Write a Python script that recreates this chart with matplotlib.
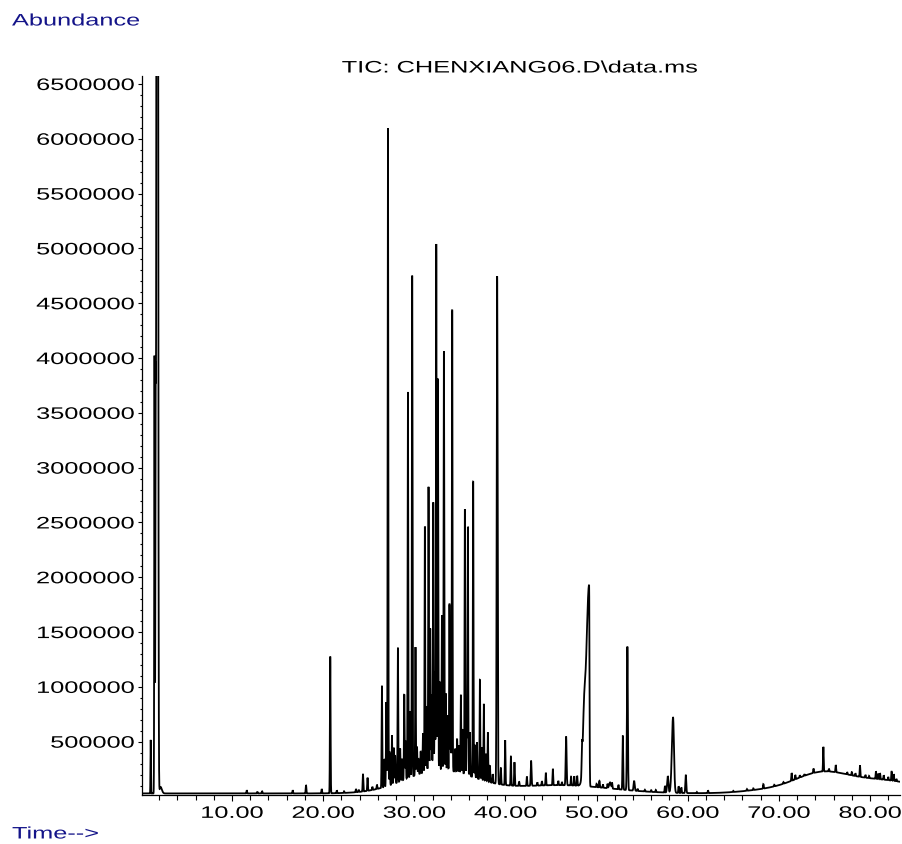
import numpy as np
import matplotlib
matplotlib.use("Agg")
import matplotlib.pyplot as plt
from matplotlib import patheffects
from matplotlib.transforms import Affine2D
from matplotlib.ticker import FixedLocator, MultipleLocator

# ---------------- data ----------------
# retention times (min) of resolved peaks
peak_rt = [
    1.08, 1.50, 1.62, 1.80, 2.15,
    11.62, 12.78, 13.30, 16.66, 18.12, 19.84, 20.78,
    21.5, 22.3, 23.6, 23.9, 24.37, 24.87, 25.4, 25.9,
    26.45, 26.7, 26.93, 27.11, 27.3, 27.55, 27.75, 27.9, 28.2, 28.45,
    28.65, 28.9, 29.05, 29.3, 29.55, 29.77, 30.13, 30.3, 30.46, 30.7,
    30.95, 31.16, 31.35, 31.56, 31.75, 31.9, 32.08, 32.25, 32.41, 32.59,
    32.8, 33.03, 33.25, 33.45, 33.65, 33.86, 34.0, 34.16, 34.49, 34.7,
    34.9, 35.11, 35.3, 35.55, 35.75, 35.88, 36.1, 36.46, 36.65, 36.87,
    37.2, 37.4, 37.63, 37.85, 38.07, 38.3, 38.6, 39.09, 39.5, 39.97,
    40.6, 40.99, 41.5, 42.35, 42.82, 43.5, 44.0, 44.43, 45.2, 45.8,
    46.2, 46.66, 47.2, 47.55, 47.87, 48.40, 48.62, 49.18, 50.0, 50.31,
    50.7, 51.2, 51.48, 51.7, 52.4, 52.88, 53.38, 54.12, 54.5, 55.3,
    56.0, 56.5, 57.5, 57.81, 58.39, 59.0, 59.3, 59.79, 61.0, 62.23,
    65.0, 66.5, 67.2, 68.3, 69.5, 70.5, 71.4, 71.8, 72.3, 72.8,
    73.8, 74.88, 75.5, 76.24, 77.5, 78.0, 78.4, 78.9, 79.5, 79.9,
    80.65, 80.9, 81.1, 81.5, 82.0, 82.37, 82.6, 82.9,
]
# peak heights above the baseline (abundance)
peak_height = [
    490e3, 4.0e6, 3.3e6, 2.5e7, 60e3,
    30e3, 16e3, 22e3, 30e3, 77e3, 40e3, 1.245e6,
    25e3, 15e3, 30e3, 20e3, 160e3, 120e3, 30e3, 40e3,
    930e3, 250e3, 770e3, 6.0e6, 300e3, 450e3, 330e3, 250e3, 1.23e6, 300e3,
    200e3, 780e3, 350e3, 3.53e6, 600e3, 4.57e6, 1.17e6, 250e3, 140e3, 200e3,
    360e3, 2.24e6, 600e3, 2.6e6, 1.3e6, 700e3, 2.45e6, 900e3, 4.8e6, 3.57e6,
    800e3, 1.41e6, 3.82e6, 700e3, 500e3, 1.52e6, 400e3, 4.21e6, 210e3, 300e3,
    250e3, 715e3, 400e3, 2.42e6, 500e3, 2.27e6, 400e3, 2.7e6, 300e3, 330e3,
    910e3, 300e3, 700e3, 250e3, 450e3, 150e3, 80e3, 4.63e6, 150e3, 410e3,
    265e3, 215e3, 40e3, 85e3, 225e3, 30e3, 40e3, 115e3, 150e3, 40e3,
    30e3, 445e3, 80e3, 85e3, 90e3, 220e3, 400e3, 1.84e6, 30e3, 60e3,
    30e3, 40e3, 55e3, 50e3, 40e3, 490e3, 1.31e6, 90e3, 20e3, 15e3,
    15e3, 20e3, 60e3, 150e3, 690e3, 60e3, 50e3, 165e3, 10e3, 25e3,
    10e3, 15e3, 15e3, 40e3, 15e3, 15e3, 70e3, 40e3, 20e3, 15e3,
    40e3, 225e3, 25e3, 65e3, 20e3, 30e3, 25e3, 105e3, 25e3, 20e3,
    70e3, 50e3, 55e3, 40e3, 30e3, 85e3, 60e3, 20e3,
]
# peaks that are broader than the default (rt: (left sigma, right sigma))
broad_peaks = {
    1.08: (0.025, 0.025), 1.50: (0.03, 0.03), 1.62: (0.03, 0.03),
    1.80: (0.065, 0.065), 2.15: (0.08, 0.15), 39.09: (0.05, 0.05),
    42.82: (0.045, 0.045), 46.66: (0.05, 0.05), 48.40: (0.04, 0.04),
    48.62: (0.13, 0.13), 49.18: (0.32, 0.04), 51.48: (0.1, 0.1),
    52.88: (0.04, 0.04), 53.38: (0.05, 0.05), 54.12: (0.06, 0.06),
    57.81: (0.07, 0.07), 58.39: (0.13, 0.10), 59.79: (0.05, 0.05),
}
default_sigma = 0.035

# broad baseline humps (centre, height, width) and constant floor
hump_rt = [32.8, 46.0, 69.0, 74.5, 81.0]
hump_height = [210e3, 75e3, 30e3, 150e3, 120e3]
hump_sigma = [3.8, 5.5, 3.0, 2.8, 4.5]
baseline_floor = 28e3

x_major = [10, 20, 30, 40, 50, 60, 70, 80]
x_labels = ["10.00", "20.00", "30.00", "40.00", "50.00", "60.00", "70.00", "80.00"]
y_major = [500000, 1000000, 1500000, 2000000, 2500000, 3000000,
           3500000, 4000000, 4500000, 5000000, 5500000, 6000000, 6500000]
y_labels = [str(v) for v in y_major]

title_text = "TIC: CHENXIANG06.D\\data.ms"
ylabel_text = "Abundance"
xlabel_text = "Time-->"

# ---------------- helpers ----------------
class HStretch(patheffects.AbstractPathEffect):
    """Widen glyphs horizontally (the reference uses a stretched font)."""
    def __init__(self, sx=1.52, anchor="left"):
        super().__init__()
        self.sx = sx
        self.anchor = anchor

    def draw_path(self, renderer, gc, tpath, affine, rgbFace=None):
        ext = tpath.get_extents()
        if self.anchor == "right":
            a = ext.x1
        elif self.anchor == "center":
            a = 0.5 * (ext.x0 + ext.x1)
        else:
            a = 0.0
        pre = Affine2D().translate(-a, 0).scale(self.sx, 1.0).translate(a, 0)
        renderer.draw_path(gc, tpath, pre + affine, rgbFace)


# ---------------- build trace ----------------
t = np.arange(0.07, 83.30, 0.004)
signal = np.full_like(t, baseline_floor)
for c, h, s in zip(hump_rt, hump_height, hump_sigma):
    signal += h * np.exp(-0.5 * ((t - c) / s) ** 2)
for c, h in zip(peak_rt, peak_height):
    sl, sr = broad_peaks.get(c, (default_sigma, default_sigma))
    s = np.where(t < c, sl, sr)
    signal += h * np.exp(-0.5 * ((t - c) / s) ** 2)

# ---------------- figure ----------------
plt.rcParams["font.family"] = ["Liberation Sans", "DejaVu Sans"]
W, H = 902, 844
fig = plt.figure(figsize=(W / 100, H / 100), dpi=100)
fig.patch.set_facecolor("white")

left_px, right_px, top_px, bottom_px = 141.5, 900.0, 76.0, 795.0
ax = fig.add_axes([left_px / W, 1 - bottom_px / H,
                   (right_px - left_px) / W, (bottom_px - top_px) / H])

ax.plot(t, signal, color="black", lw=1.3, solid_joinstyle="miter")

ax.set_xlim(0.07, 83.29)
ax.set_ylim(13700, 6573000)

for side in ("top", "right"):
    ax.spines[side].set_visible(False)
for side in ("left", "bottom"):
    ax.spines[side].set_linewidth(0.9)
    ax.spines[side].set_color("black")

ax.xaxis.set_major_locator(FixedLocator(x_major))
ax.set_xticklabels(x_labels)
ax.xaxis.set_minor_locator(MultipleLocator(2))
ax.yaxis.set_major_locator(FixedLocator(y_major))
ax.set_yticklabels(y_labels)
ax.yaxis.set_minor_locator(MultipleLocator(100000))

ax.tick_params(axis="x", which="major", direction="out", length=4.3, width=0.8,
               pad=3.5, labelsize=12, colors="black")
ax.tick_params(axis="x", which="minor", direction="out", length=3.6, width=0.8)
ax.tick_params(axis="y", which="major", direction="out", length=3.2, width=0.8,
               pad=2.0, labelsize=12, colors="black")
ax.tick_params(axis="y", which="minor", direction="out", length=1.6, width=0.8)

for lab in ax.get_xticklabels():
    lab.set_path_effects([HStretch(1.52, "center")])
for lab in ax.get_yticklabels():
    lab.set_path_effects([HStretch(1.52, "right")])

navy = "#141489"
fig.text(12 / W, 1 - 21 / H, ylabel_text, color=navy, fontsize=12,
         ha="left", va="center", path_effects=[HStretch(1.52, "left")])
fig.text(12 / W, 1 - 834 / H, xlabel_text, color=navy, fontsize=12,
         ha="left", va="center", path_effects=[HStretch(1.52, "left")])
fig.text(519.5 / W, 1 - 68 / H, title_text, color="black", fontsize=12,
         ha="center", va="center", path_effects=[HStretch(1.52, "center")])

fig.savefig("out.png", dpi=100, facecolor="white")
